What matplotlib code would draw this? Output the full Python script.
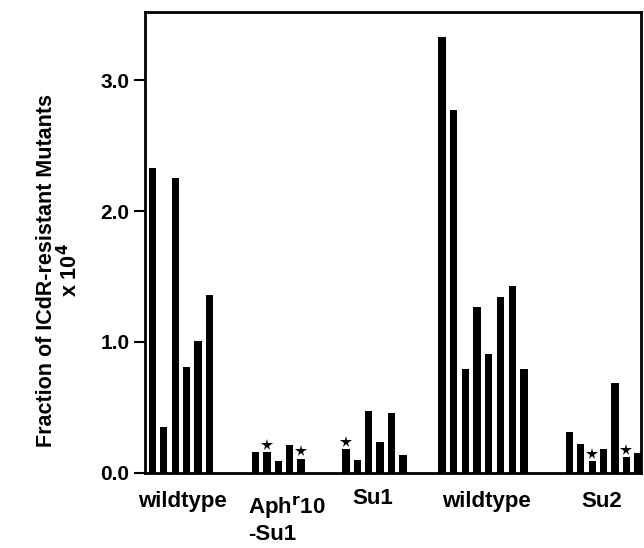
import matplotlib
matplotlib.use("Agg")
import matplotlib.pyplot as plt
import numpy as np

plt.rcParams['font.family'] = ['Liberation Sans', 'DejaVu Sans']
plt.rcParams['font.weight'] = 'bold'

# Data (fraction of ICdR-resistant mutants x 10^4)
wildtype1 = [2.33, 0.35, 2.25, 0.81, 1.01, 1.36]
aph_su1 = [0.16, 0.16, 0.09, 0.21, 0.11]
su1 = [0.18, 0.10, 0.47, 0.24, 0.46, 0.14]
wildtype2 = [3.33, 2.77, 0.79, 1.27, 0.91, 1.34, 1.43, 0.79]
su2 = [0.31, 0.22, 0.09, 0.18, 0.69, 0.12, 0.15]

aph_stars = [False, True, False, False, True]
su1_stars = [True, False, False, False, False, False]
su2_stars = [False, False, True, False, False, True, False]

groups = [wildtype1, aph_su1, su1, wildtype2, su2]
stars = [[False]*len(wildtype1), aph_stars, su1_stars, [False]*len(wildtype2), su2_stars]

# layout
group_starts = [0.66, 9.7, 17.63, 26.05, 37.24]
group_steps = [1.0, 1.0, 1.0, 1.03, 1.0]

fig = plt.figure(figsize=(6.44, 5.48), dpi=100)
ax = fig.add_axes([0.225, 0.137, 0.770, 0.841])

for vals, st, x0, step in zip(groups, stars, group_starts, group_steps):
    xs = x0 + step * np.arange(len(vals))
    ax.bar(xs, vals, width=0.64, color='black', edgecolor='black', linewidth=0)
    for x, v, s in zip(xs, vals, st):
        if s:
            ax.plot(x, v + 0.055, marker='*', color='black', markersize=8.5, markeredgewidth=0)

ax.set_xlim(0, 43.5)
ax.set_ylim(0, 3.52)
ax.set_xticks([])
ax.set_yticks([0, 1, 2, 3])
ax.set_yticklabels(["0.0", "1.0", "2.0", "3.0"], fontsize=15, fontweight='bold')
ax.tick_params(axis='y', direction='out', length=8, width=1.5, pad=3)
for sp in ax.spines.values():
    sp.set_linewidth(2.0)

xt = ax.get_xaxis_transform()
lab_kw = dict(transform=xt, va='baseline', fontsize=16, fontweight='bold')
ax.text(3.25, -0.075, "wildtype", ha='center', **lab_kw)
ax.text(9.04, -0.090, "Aph$^{\\mathbf{r}}$10", ha='left', **lab_kw)
ax.text(9.04, -0.146, "-Su1", ha='left', **lab_kw)
ax.text(20.0, -0.067, "Su1", ha='center', **lab_kw)
ax.text(30.0, -0.075, "wildtype", ha='center', **lab_kw)
ax.text(40.1, -0.075, "Su2", ha='center', **lab_kw)

fig.text(0.072, 0.507, "Fraction of ICdR-resistant Mutants", rotation=90,
         ha='center', va='center', fontsize=15.5, fontweight='bold')
fig.text(0.108, 0.507, "x 10$^{\\mathbf{4}}$", rotation=90,
         ha='center', va='center', fontsize=15.5, fontweight='bold')

fig.savefig("out.png", dpi=100)
